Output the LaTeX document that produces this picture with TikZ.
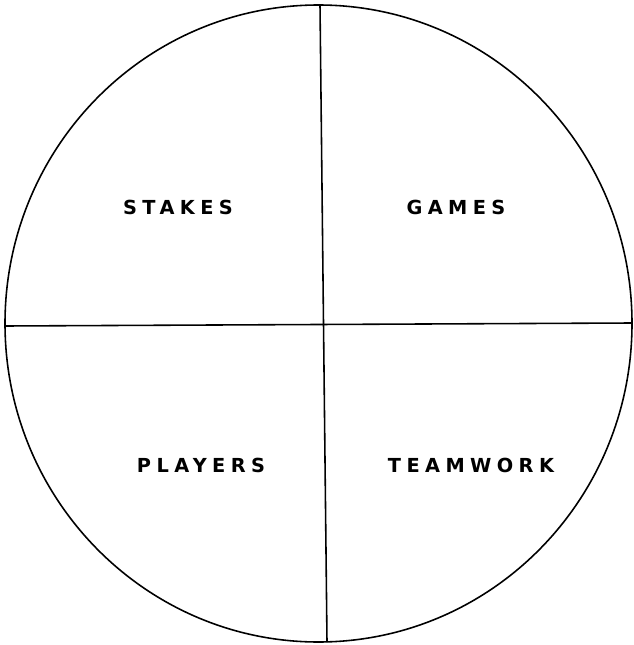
\documentclass[tikz,border=0pt]{standalone}
\usepackage{fontspec}
\usepackage{tikz}
\newfontfamily\quarterfont[LetterSpace=28]{DejaVu Sans}

\begin{document}
\begin{tikzpicture}[x=0.02cm, y=-0.02cm,
        divider/.style={line width=0.9pt, black},
        quarter/.style={font=\quarterfont\bfseries\fontsize{11}{13}\selectfont, inner sep=0pt}
    ]
        \useasboundingbox (0,0) rectangle (633,645);
        \draw[divider] (318.5,323.5) ellipse [x radius=313.5, y radius=318.5];

        \coordinate (top) at (320,5);
        \coordinate (bottom) at (327,642);
        \coordinate (left) at (5,326);
        \coordinate (right) at (632,323);
        \draw[divider] (top) -- (bottom);
        \draw[divider] (left) -- (right);

        \node[quarter] (stakes) at (178,207) {STAKES};
        \node[quarter] (games) at (456,207) {GAMES};
        \node[quarter] (players) at (201,465) {PLAYERS};
        \node[quarter] (teamwork) at (471,465) {TEAMWORK};
    \end{tikzpicture}
\end{document}
